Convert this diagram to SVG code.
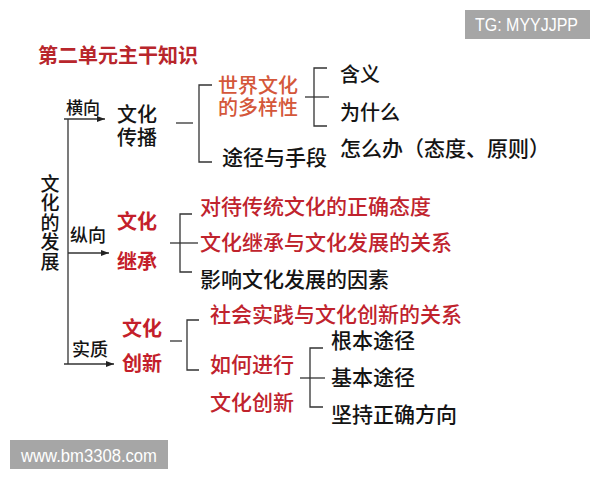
<svg xmlns="http://www.w3.org/2000/svg" width="600" height="480" viewBox="0 0 600 480">
<defs>
<style>
text{font-family:"Noto Sans CJK SC","Liberation Sans",sans-serif;}
.k{fill:#141414;font-size:20px;font-weight:500;}
.kb{fill:#141414;font-size:21px;font-weight:500;}
.r{fill:#c0232d;font-size:21px;font-weight:500;}
.rb{fill:#c41f2b;font-size:20px;font-weight:bold;}
.o{fill:#d4573a;font-size:20px;font-weight:500;}
.t{fill:#b8262c;font-size:20px;font-weight:bold;}
.s{fill:#141414;font-size:18px;font-weight:500;}
.wm{fill:#ffffff;font-family:"Liberation Sans",Arial,sans-serif;}
.ln{stroke:#333;stroke-width:1.3;fill:none;}
</style>
<marker id="ah" viewBox="0 0 8 6" refX="8" refY="3" markerWidth="8" markerHeight="6" markerUnits="userSpaceOnUse" orient="auto">
<path d="M0,0 L8,3 L0,6 z" fill="#222"/>
</marker>
</defs>
<rect width="600" height="480" fill="#ffffff"/>

<g id="watermark-tg">
<rect x="465" y="10" width="125" height="29" fill="#a6a6a6"/>
<text class="wm" x="475" y="31" font-size="18" textLength="103" lengthAdjust="spacingAndGlyphs">TG: MYYJJPP</text>
</g>
<g id="watermark-site">
<rect x="10" y="440" width="158" height="29" fill="#a6a6a6"/>
<text class="wm" x="21" y="462" font-size="17.5" textLength="136" lengthAdjust="spacingAndGlyphs">www.bm3308.com</text>
</g>

<g id="title"><text class="t" x="38" y="63">第二单元主干知识</text></g>

<g id="connectors">
<line class="ln" x1="68" y1="119" x2="68" y2="364"/>
<line class="ln" x1="64" y1="119" x2="105" y2="119" marker-end="url(#ah)"/>
<line class="ln" x1="68" y1="253" x2="109" y2="253" marker-end="url(#ah)"/>
<line class="ln" x1="64" y1="364" x2="114" y2="364" marker-end="url(#ah)"/>
<line class="ln" x1="176" y1="123" x2="193" y2="123"/>
<path class="ln" d="M212,85 H199 V162 H212"/>
<line class="ln" x1="305" y1="97" x2="329" y2="97"/>
<path class="ln" d="M327,68 H314 V126 H327"/>
<line class="ln" x1="170" y1="243" x2="198" y2="243"/>
<path class="ln" d="M192,214 H180 V272 H192"/>
<line class="ln" x1="170" y1="341" x2="182" y2="341"/>
<path class="ln" d="M199,320 H187 V370 H199"/>
<line class="ln" x1="300" y1="378" x2="325" y2="378"/>
<path class="ln" d="M323,348 H310 V407 H323"/>
</g>

<g id="root">
<text class="k" x="50" y="174" letter-spacing="0.5" style="writing-mode:vertical-rl;font-size:19px">文化的发展</text>
</g>

<g id="label-hengxiang"><text class="s" x="66" y="114" style="font-size:17px">横向</text></g>
<g id="label-zongxiang"><text class="s" x="70" y="242">纵向</text></g>
<g id="label-shizhi"><text class="s" x="72" y="356">实质</text></g>

<g id="node-chuanbo">
<text class="k"><tspan x="117" y="122">文化</tspan><tspan x="117" y="145">传播</tspan></text>
</g>
<g id="node-duoyang">
<text class="o"><tspan x="218" y="93">世界文化</tspan><tspan x="218" y="115">的多样性</tspan></text>
</g>
<g id="node-hanyi"><text class="k" x="340" y="82">含义</text></g>
<g id="node-weishenme"><text class="k" x="340" y="120">为什么</text></g>
<g id="node-zenmeban"><text class="kb" x="340" y="156">怎么办（态度、原则）</text></g>
<g id="node-tujing"><text class="kb" x="222" y="165">途径与手段</text></g>

<g id="node-jicheng">
<text class="rb"><tspan x="117" y="229">文化</tspan><tspan x="117" y="269">继承</tspan></text>
</g>
<g id="node-duidai"><text class="r" x="200" y="214">对待传统文化的正确态度</text></g>
<g id="node-guanxi1"><text class="r" x="200" y="250">文化继承与文化发展的关系</text></g>
<g id="node-yingxiang"><text class="kb" x="200" y="287">影响文化发展的因素</text></g>

<g id="node-chuangxin">
<text class="rb"><tspan x="122" y="336">文化</tspan><tspan x="122" y="371">创新</tspan></text>
</g>
<g id="node-shehui"><text class="r" x="210" y="322">社会实践与文化创新的关系</text></g>
<g id="node-ruhe">
<text class="r"><tspan x="210" y="372">如何进行</tspan><tspan x="210" y="410">文化创新</tspan></text>
</g>
<g id="node-genben"><text class="kb" x="331" y="348">根本途径</text></g>
<g id="node-jiben"><text class="kb" x="331" y="385">基本途径</text></g>
<g id="node-jianchi"><text class="kb" x="331" y="422">坚持正确方向</text></g>
</svg>
